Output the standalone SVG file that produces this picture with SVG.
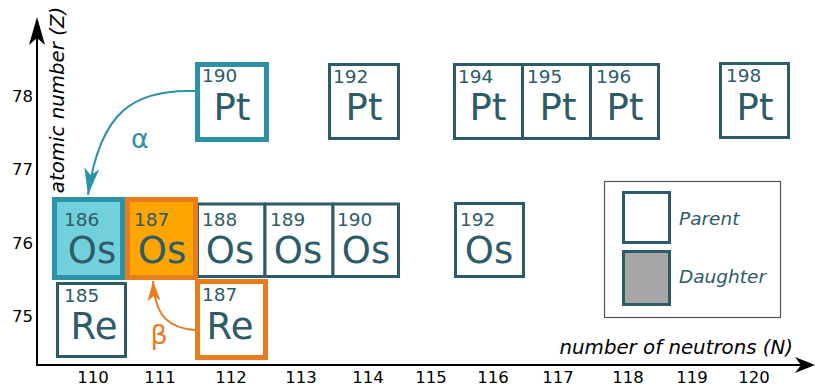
<svg xmlns="http://www.w3.org/2000/svg" width="815" height="387" viewBox="0 0 815 387">
  <style>
    .box { fill: #ffffff; stroke: #2d5b68; stroke-width: 3; }
    .alpha-box { fill: #72d0dd; stroke: #2e92a7; stroke-width: 5; }
    .alpha-parent { fill: #ffffff; stroke: #2e92a7; stroke-width: 5; }
    .beta-box { fill: #ffa500; stroke: #e87d1e; stroke-width: 5; }
    .beta-parent { fill: #ffffff; stroke: #e87d1e; stroke-width: 5; }
    .mass { font-family: "DejaVu Sans", Verdana, sans-serif; font-size: 18.5px; fill: #2d5b68; }
    .sym { font-family: "DejaVu Sans", Verdana, sans-serif; font-size: 37px; fill: #2d5b68; text-anchor: middle; }
    .tick { font-family: "DejaVu Sans", Verdana, sans-serif; font-size: 16.5px; fill: #000000; }
    .axis-title { font-family: "DejaVu Sans", Verdana, sans-serif; font-size: 19.8px; font-style: italic; fill: #000000; }
    .legend-text { font-family: "DejaVu Sans", Verdana, sans-serif; font-size: 18.5px; font-style: italic; fill: #2d5b68; }
    .decay-label { font-family: "DejaVu Sans", Verdana, sans-serif; font-size: 27px; }
  </style>
  <defs>
    <marker id="head-alpha" markerUnits="userSpaceOnUse" markerWidth="30" markerHeight="20" viewBox="-28 -10 30 20" refX="0" refY="0" orient="auto">
      <path d="M0,0 L-27,-7.5 L-20,0 L-27,7.5 Z" fill="#2e92a7"/>
    </marker>
    <marker id="head-beta" markerUnits="userSpaceOnUse" markerWidth="24" markerHeight="16" viewBox="-22 -8 24 16" refX="0" refY="0" orient="auto">
      <path d="M0,0 L-20,-6.5 L-15,0 L-20,6.5 Z" fill="#e87d1e"/>
    </marker>
  </defs>

  <rect width="815" height="387" fill="#ffffff"/>

  <!-- axes -->
  <g id="axes">
    <line x1="37" y1="366" x2="37" y2="32" stroke="#000" stroke-width="2"/>
    <path d="M37,17 L45,45 L37,38 L29,45 Z" fill="#000"/>
    <line x1="36" y1="365" x2="802" y2="365" stroke="#000" stroke-width="2"/>
    <path d="M815,365 L795,357 L801,365 L795,373 Z" fill="#000"/>
    <text class="axis-title" transform="translate(64,100) rotate(-90)" text-anchor="middle">atomic number (Z)</text>
    <text class="axis-title" x="793" y="354" text-anchor="end">number of neutrons (N)</text>
    <g class="tick" text-anchor="end">
      <text x="33" y="102">78</text>
      <text x="33" y="175">77</text>
      <text x="33" y="249">76</text>
      <text x="33" y="322">75</text>
    </g>
    <g class="tick" text-anchor="middle">
      <text x="93" y="383">110</text>
      <text x="160" y="383">111</text>
      <text x="231" y="383">112</text>
      <text x="301" y="383">113</text>
      <text x="368" y="383">114</text>
      <text x="431" y="383">115</text>
      <text x="493" y="383">116</text>
      <text x="558" y="383">117</text>
      <text x="628" y="383">118</text>
      <text x="692" y="383">119</text>
      <text x="754" y="383">120</text>
    </g>
  </g>

  <!-- platinum row (Z = 78) -->
  <g id="pt190">
    <rect class="alpha-parent" x="197.5" y="64.5" width="69" height="75"/>
    <text class="mass" x="202" y="82">190</text>
    <text class="sym" x="232" y="120">Pt</text>
  </g>
  <g id="pt192">
    <rect class="box" x="329.5" y="64.5" width="69" height="74"/>
    <text class="mass" x="333" y="83">192</text>
    <text class="sym" x="364" y="120">Pt</text>
  </g>
  <g id="pt194">
    <rect class="box" x="454.5" y="64.5" width="68" height="74"/>
    <text class="mass" x="458" y="83">194</text>
    <text class="sym" x="488" y="120">Pt</text>
  </g>
  <g id="pt195">
    <rect class="box" x="522.5" y="64.5" width="68" height="74"/>
    <text class="mass" x="527" y="83">195</text>
    <text class="sym" x="558" y="120">Pt</text>
  </g>
  <g id="pt196">
    <rect class="box" x="590.5" y="64.5" width="68" height="74"/>
    <text class="mass" x="596" y="83">196</text>
    <text class="sym" x="625" y="120">Pt</text>
  </g>
  <g id="pt198">
    <rect class="box" x="720.5" y="63.5" width="68" height="74"/>
    <text class="mass" x="726" y="82">198</text>
    <text class="sym" x="755" y="120">Pt</text>
  </g>

  <!-- osmium row (Z = 76) -->
  <g id="os188">
    <rect class="box" x="197.5" y="204" width="67.5" height="72.5"/>
    <text class="mass" x="202" y="226">188</text>
    <text class="sym" x="230" y="263">Os</text>
  </g>
  <g id="os189">
    <rect class="box" x="265" y="204" width="68" height="72.5"/>
    <text class="mass" x="270" y="226">189</text>
    <text class="sym" x="298" y="263">Os</text>
  </g>
  <g id="os190">
    <rect class="box" x="333" y="204" width="65.5" height="72.5"/>
    <text class="mass" x="337" y="226">190</text>
    <text class="sym" x="366" y="263">Os</text>
  </g>
  <g id="os192">
    <rect class="box" x="455.5" y="203.5" width="68" height="73"/>
    <text class="mass" x="460" y="226">192</text>
    <text class="sym" x="489" y="263">Os</text>
  </g>

  <!-- rhenium row (Z = 75) -->
  <g id="re185">
    <rect class="box" x="57.5" y="283.5" width="68" height="73"/>
    <text class="mass" x="64" y="301.5">185</text>
    <text class="sym" x="94" y="338.5">Re</text>
  </g>
  <g id="re187">
    <rect class="beta-parent" x="197.5" y="281.5" width="68" height="76"/>
    <text class="mass" x="202" y="300.5">187</text>
    <text class="sym" x="230" y="338.5">Re</text>
  </g>

  <!-- decay daughters -->
  <g id="os186">
    <rect class="alpha-box" x="54.5" y="199.5" width="68" height="78"/>
    <text class="mass" x="64" y="226">186</text>
    <text class="sym" x="92" y="263">Os</text>
  </g>
  <g id="os187">
    <rect class="beta-box" x="127.5" y="199.5" width="68" height="78"/>
    <text class="mass" x="134" y="226">187</text>
    <text class="sym" x="162" y="263">Os</text>
  </g>

  <!-- decay arrows -->
  <g id="connectors" fill="none">
    <path d="M195,91 C135,89 100,110 88,195" stroke="#2e92a7" stroke-width="2" marker-end="url(#head-alpha)"/>
    <text class="decay-label" x="140" y="148" text-anchor="middle" fill="#2e92a7">α</text>
    <path d="M195,330 C170,328 155,318 153,281" stroke="#e87d1e" stroke-width="2" marker-end="url(#head-beta)"/>
    <text class="decay-label" x="159" y="344" text-anchor="middle" fill="#e87d1e">β</text>
  </g>

  <!-- legend -->
  <g id="legend">
    <rect x="604.5" y="181.5" width="176" height="136" fill="#ffffff" stroke="#555555" stroke-width="1.2"/>
    <rect class="box" x="623.5" y="192.5" width="46" height="50"/>
    <text class="legend-text" x="679" y="225">Parent</text>
    <rect x="623.5" y="251.5" width="46" height="53" fill="#a6a6a6" stroke="#2d5b68" stroke-width="3"/>
    <text class="legend-text" x="679" y="283">Daughter</text>
  </g>
</svg>
